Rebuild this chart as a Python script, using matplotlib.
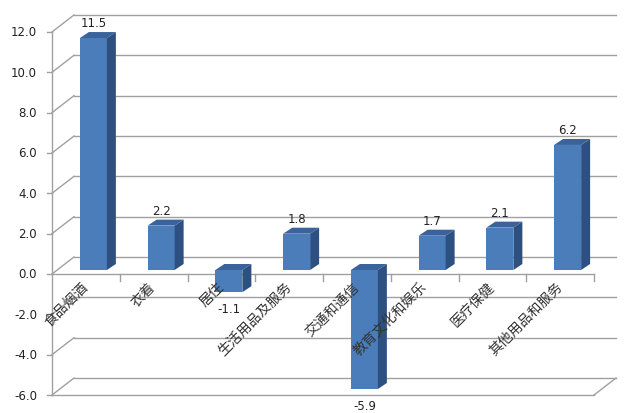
import matplotlib
matplotlib.use('Agg')
import matplotlib.pyplot as plt
from matplotlib.patches import Rectangle, Polygon

plt.rcParams['font.family'] = ['DejaVu Sans']

# data
categories = ['食品烟酒', '衣着', '居住', '生活用品及服务', '交通和通信',
              '教育文化和娱乐', '医疗保健', '其他用品和服务']
values = [11.5, 2.2, -1.1, 1.8, -5.9, 1.7, 2.1, 6.2]
yticks = [-6, -4, -2, 0, 2, 4, 6, 8, 10, 12]

# fake 3d geometry (in data units)
px_cat, px_val = 67.75, 20.17          # pixels per category / per value unit
wall_dx, wall_dy = 22 / px_cat, 17 / px_val
bar_dx, bar_dy = 7.5 / px_cat, 4 / px_val      # bars sit half way into depth
dep_dx, dep_dy = 9 / px_cat, 6 / px_val        # bar depth
bar_w = 27 / px_cat
n = len(categories)

front_c, top_c, side_c = '#4A7DBA', '#3A639C', '#2E5080'
grid_c = '#A0A0A0'

fig = plt.figure(figsize=(6.4, 4.14), dpi=100)
ax = fig.add_axes([0, 0, 1, 1])
ax.set_xlim(-52 / px_cat, (640 - 52) / px_cat)
ax.set_ylim((275 - 414) / px_val, 275 / px_val)
ax.axis('off')

ymin, ymax = yticks[0], yticks[-1]

# back wall gridlines + side wall diagonals
for t in yticks:
    ax.plot([wall_dx, n + wall_dx], [t + wall_dy, t + wall_dy], color=grid_c, lw=1, zorder=1)
    ax.plot([0, wall_dx], [t, t + wall_dy], color=grid_c, lw=1, zorder=1)
    ax.plot([-0.08, 0], [t, t], color=grid_c, lw=1, zorder=1)
    ax.text(-0.22, t, f'{t:.1f}', ha='right', va='center', fontsize=8.5, color='#222222')

# floor
ax.plot([0, n], [ymin, ymin], color=grid_c, lw=1, zorder=1)
ax.plot([n, n + wall_dx], [ymin, ymin + wall_dy], color=grid_c, lw=1, zorder=1)

# front value axis and category axis
ax.plot([0, 0], [ymin, ymax], color=grid_c, lw=1, zorder=1)
ax.plot([0, n], [0, 0], color=grid_c, lw=1, zorder=1)
for k in range(1, n + 1):
    ax.plot([k, k], [0, -0.35], color=grid_c, lw=1, zorder=1)

# bars
for i, v in enumerate(values):
    x0 = i + 0.5 - bar_w / 2 + bar_dx
    lo, hi = min(0, v) + bar_dy, max(0, v) + bar_dy
    ax.add_patch(Rectangle((x0, lo), bar_w, hi - lo, facecolor=front_c, edgecolor='none', zorder=3))
    ax.add_patch(Polygon([(x0, hi), (x0 + bar_w, hi), (x0 + bar_w + dep_dx, hi + dep_dy),
                          (x0 + dep_dx, hi + dep_dy)], closed=True, facecolor=top_c,
                         edgecolor='none', zorder=3))
    ax.add_patch(Polygon([(x0 + bar_w, lo), (x0 + bar_w + dep_dx, lo + dep_dy),
                          (x0 + bar_w + dep_dx, hi + dep_dy), (x0 + bar_w, hi)], closed=True,
                         facecolor=side_c, edgecolor='none', zorder=3))
    if v >= 0:
        ax.text(x0 + bar_w / 2, hi + dep_dy + 0.15, f'{v:.1f}', ha='center', va='bottom',
                fontsize=8.5, color='#222222', zorder=4)
    else:
        ax.text(x0 + bar_w / 2, lo - 0.5, f'{v:.1f}', ha='center', va='top',
                fontsize=8.5, color='#222222', zorder=4)

# category labels
for i, c in enumerate(categories):
    ax.text(i + 0.5, -0.5, c, rotation=45, rotation_mode='anchor', ha='right', va='center',
            fontsize=10, family=['Noto Sans CJK SC', 'DejaVu Sans'], color='#333333', zorder=5)

fig.savefig('out.png', dpi=100)
